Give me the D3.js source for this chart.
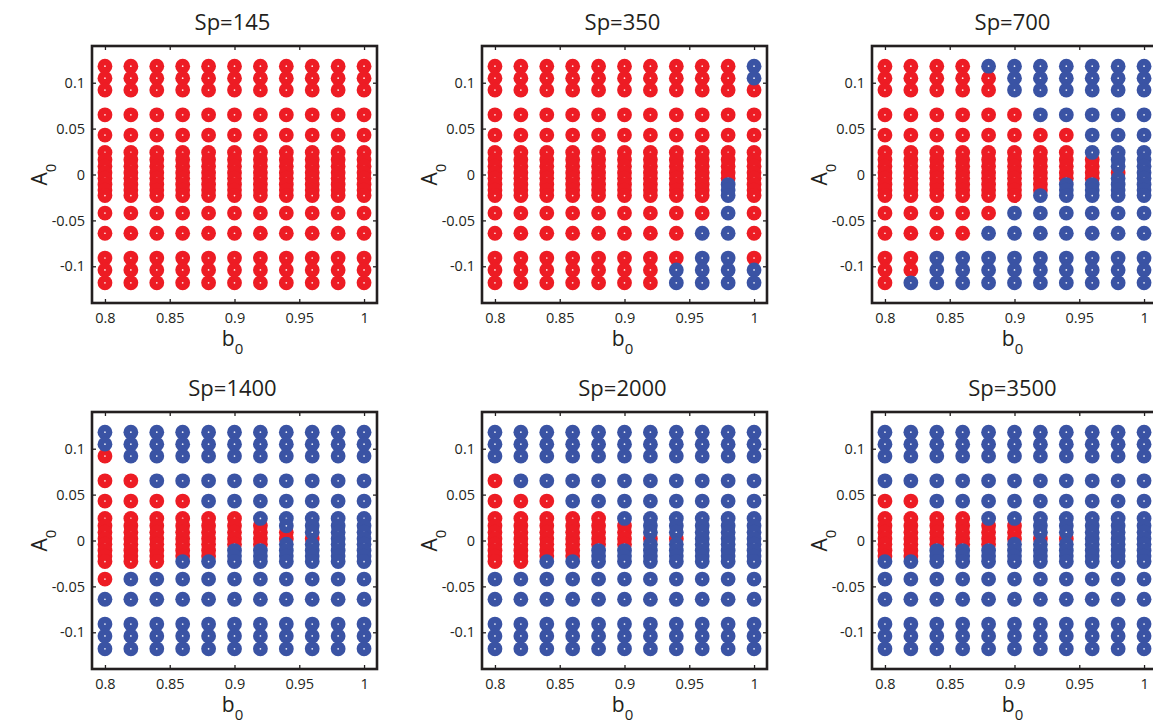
<!DOCTYPE html>
<html><head><meta charset="utf-8">
<script src="https://cdn.jsdelivr.net/npm/d3@7"></script>
<style>
body{margin:0;background:#fff}
svg{display:block}
text{font-family:"Open Sans",sans-serif;fill:#231f20}
</style>
</head><body>
<svg id="chart" width="1153" height="724"></svg>
<script>
// ---- data ----
const b0Values = [0.80, 0.82, 0.84, 0.86, 0.88, 0.90, 0.92, 0.94, 0.96, 0.98, 1.00];
const a0Values = [0.118, 0.105, 0.092, 0.065, 0.043, 0.024, 0.016, 0.009, 0.002,
                  -0.004, -0.011, -0.017, -0.023, -0.042, -0.064, -0.091, -0.104, -0.118];
const titles = ["Sp=145", "Sp=350", "Sp=700", "Sp=1400", "Sp=2000", "Sp=3500"];
const xTicks = [0.8, 0.85, 0.9, 0.95, 1];
const xTickLabels = ["0.8", "0.85", "0.9", "0.95", "1"];
const yTicks = [-0.1, -0.05, 0, 0.05, 0.1];
const yTickLabels = ["-0.1", "-0.05", "0", "0.05", "0.1"];
// per column (b0), per A0 row from top (0.118) to bottom (-0.118): r = stable (red), b = unstable (blue)
const sp145 = Array(11).fill("rrrrrrrrrrrrrrrrrr");
const sp350 = ["rrrrrrrrrrrrrrrrrr","rrrrrrrrrrrrrrrrrr","rrrrrrrrrrrrrrrrrr","rrrrrrrrrrrrrrrrrr",
  "rrrrrrrrrrrrrrrrrr","rrrrrrrrrrrrrrrrrr","rrrrrrrrrrrrrrrrrr","rrrrrrrrrrrrrrrrbb",
  "rrrrrrrrrrrrrrbbbb","rrrrrrrrrrbbbbbbbb","bbrrrrrrrrrrrrrrbb"];
const sp700 = ["rrrrrrrrrrrrrrrrrr","rrrrrrrrrrrrrrrrrb","rrrrrrrrrrrrrrrbbb","rrrrrrrrrrrrrrrbbb",
  "brrrrrrrrrrrrrbbbb","bbbrrrrrrrrrrbbbbb","bbbbrrrrrrrrbbbbbb","bbbbrrrrrrbbbbbbbb",
  "bbbbbbrrrrbbbbbbbb","bbbbbbbbrbbbbbbbbb","bbbbbbbbbbbbbbbbbb"];
const sp1400 = ["bbrrrrrrrrrrrrbbbb","bbbrrrrrrrrrrbbbbb","bbbbrrrrrrrrrbbbbb","bbbbrrrrrrrrbbbbbb",
  "bbbbbrrrrrrrbbbbbb","bbbbbrrrrrbbbbbbbb","bbbbbbrrrrbbbbbbbb","bbbbbbbrrbbbbbbbbb",
  "bbbbbbbbrbbbbbbbbb","bbbbbbbbbbbbbbbbbb","bbbbbbbbbbbbbbbbbb"];
const sp2000 = ["bbbrrrrrrrrrrbbbbb","bbbbrrrrrrrrrbbbbb","bbbbrrrrrrrrbbbbbb","bbbbbrrrrrrrbbbbbb",
  "bbbbbrrrrrbbbbbbbb","bbbbbbrrrrbbbbbbbb","bbbbbbbbrbbbbbbbbb","bbbbbbbbrbbbbbbbbb",
  "bbbbbbbbbbbbbbbbbb","bbbbbbbbbbbbbbbbbb","bbbbbbbbbbbbbbbbbb"];
const sp3500 = ["bbbbrrrrrrrrbbbbbb","bbbbrrrrrrrrbbbbbb","bbbbbrrrrrbbbbbbbb","bbbbbrrrrrbbbbbbbb",
  "bbbbbbrrrrbbbbbbbb","bbbbbbrrrbbbbbbbbb","bbbbbbbbrbbbbbbbbb","bbbbbbbbrbbbbbbbbb",
  "bbbbbbbbbbbbbbbbbb","bbbbbbbbbbbbbbbbbb","bbbbbbbbbbbbbbbbbb"];
const panelsData = [sp145, sp350, sp700, sp1400, sp2000, sp3500];

// ---- layout / style ----
const RED = "#ed1c24", BLUE = "#3a53a4";
const boxW = 285, boxH = 257;
const lefts = [92, 482, 872], tops = [46, 412];
const svg = d3.select("#chart");

panelsData.forEach((cols, p) => {
  const x0 = lefts[p % 3], y0 = tops[Math.floor(p / 3)];
  const g = svg.append("g").attr("transform", `translate(${x0},${y0})`);
  const x = d3.scaleLinear().domain([0.79, 1.01]).range([0, boxW]);
  const y = d3.scaleLinear().domain([-0.14, 0.14]).range([boxH, 0]);

  const pts = [];
  cols.forEach((s, ci) => {
    for (let ri = 0; ri < a0Values.length; ri++) {
      pts.push({b: b0Values[ci], a: a0Values[ri], st: s[ri]});
    }
  });
  const ordered = pts.filter(d => d.st === "r").concat(pts.filter(d => d.st === "b"));
  const mk = g.append("g").selectAll("g").data(ordered).join("g")
    .attr("transform", d => `translate(${x(d.b)},${y(d.a)})`);
  mk.append("circle").attr("r", 7.4).attr("fill", d => d.st === "r" ? RED : BLUE);
  mk.append("circle").attr("r", 0.85).attr("fill", "#fff").attr("opacity", 0.9);

  const fs = "14.5px";
  const ax = g.append("g").attr("transform", `translate(0,${boxH})`)
    .call(d3.axisBottom(x).tickValues(xTicks).tickFormat((d, i) => xTickLabels[i]).tickSize(-4).tickPadding(10));
  const axT = g.append("g").call(d3.axisTop(x).tickValues(xTicks).tickFormat("").tickSize(-4));
  const ay = g.append("g")
    .call(d3.axisLeft(y).tickValues(yTicks).tickFormat((d, i) => yTickLabels[i]).tickSize(-4).tickPadding(7));
  const ayR = g.append("g").attr("transform", `translate(${boxW},0)`)
    .call(d3.axisRight(y).tickValues(yTicks).tickFormat("").tickSize(-4));
  [ax, axT, ay, ayR].forEach(a => {
    a.select(".domain").remove();
    a.selectAll("line").attr("stroke", "#231f20").attr("stroke-width", 1.3);
    a.selectAll("text").style("font-size", fs).style("font-family", '"Open Sans",sans-serif').attr("fill", "#231f20");
  });

  g.append("rect").attr("x", 0).attr("y", 0).attr("width", boxW).attr("height", boxH)
    .attr("fill", "none").attr("stroke", "#231f20").attr("stroke-width", 2.6);

  g.append("text").attr("x", boxW / 2 - 2).attr("y", -16).attr("text-anchor", "middle")
    .style("font-size", "22px").text(titles[p]);

  const xl = g.append("text").attr("x", boxW / 2 - 2).attr("y", boxH + 43).attr("text-anchor", "middle")
    .style("font-size", "21px");
  xl.append("tspan").text("b");
  xl.append("tspan").attr("dy", 8).style("font-size", "15px").text("0");

  const yl = g.append("text").attr("transform", `translate(-45,${boxH / 2}) rotate(-90)`)
    .attr("text-anchor", "middle").style("font-size", "21px");
  yl.append("tspan").text("A");
  yl.append("tspan").attr("dy", 9).style("font-size", "15px").text("0");
});
</script>
</body></html>
